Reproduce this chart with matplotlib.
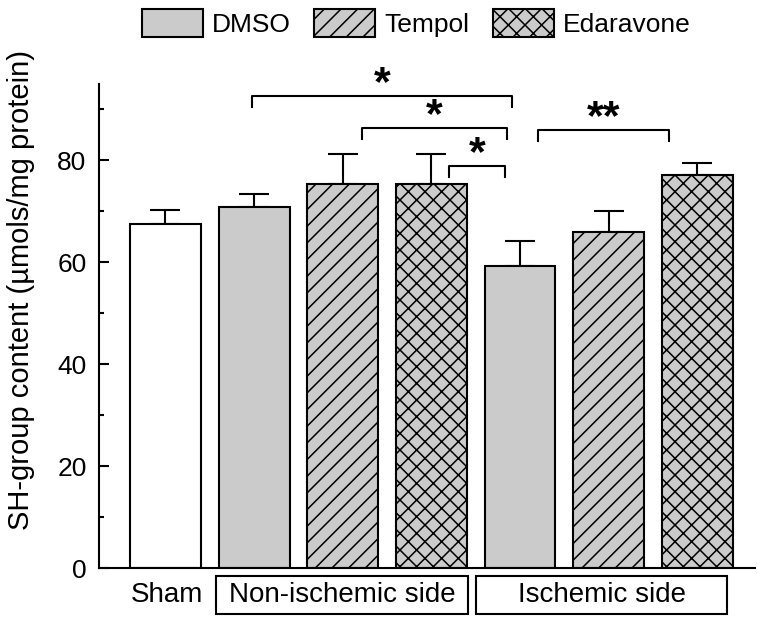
import numpy as np
import matplotlib
matplotlib.use('Agg')
import matplotlib.pyplot as plt
from matplotlib.patches import Patch, Rectangle
import matplotlib.transforms as mtransforms

plt.rcParams['font.family'] = ['Liberation Sans', 'DejaVu Sans']
plt.rcParams['hatch.linewidth'] = 1.1

# data
groups = ['Sham', 'DMSO', 'Tempol', 'Edaravone', 'DMSO', 'Tempol', 'Edaravone']
means = [67.5, 70.8, 75.4, 75.4, 59.3, 65.9, 77.2]
sems = [2.7, 2.6, 5.9, 5.9, 4.9, 4.2, 2.3]
# significance brackets: (left x, right x, y, label)
brackets = [(0.975, 3.91, 92.6, '*'),
            (2.22, 3.85, 86.4, '*'),
            (3.20, 3.83, 78.9, '*'),
            (4.20, 5.68, 86.0, '**')]

GREY = '#cbcbcb'
styles = {'Sham': ('white', ''), 'DMSO': (GREY, ''),
          'Tempol': (GREY, '//'), 'Edaravone': (GREY, 'xx')}

fig = plt.figure(figsize=(7.64, 6.24), dpi=100)
ax = fig.add_axes([0.1296, 0.0897, 0.8584, 0.7757])

x = np.arange(len(groups))
for xi, g, m in zip(x, groups, means):
    fc, h = styles[g]
    ax.bar(xi, m, width=0.8, color=fc, edgecolor='black', linewidth=1.5,
           hatch=h, zorder=2)
ax.errorbar(x, means, yerr=[np.zeros(len(sems)), sems], fmt='none',
            ecolor='black', elinewidth=1.5, capsize=10.5, capthick=1.5, zorder=1)

# brackets
leg = 2.2
for x0, x1, yb, lab in brackets:
    ax.plot([x0, x0, x1, x1], [yb - leg, yb, yb, yb - leg], color='black',
            lw=1.5, clip_on=False, zorder=3)
    ax.text((x0 + x1) / 2, yb + 0.2, lab, ha='center', va='baseline',
            fontsize=31, fontweight='bold', clip_on=False)

ax.set_xlim(-0.75, 6.65)
ax.set_ylim(0, 95)
ax.set_yticks([0, 20, 40, 60, 80])
ax.set_yticks([10, 30, 50, 70, 90], minor=True)
ax.tick_params(axis='y', which='major', direction='in', length=7, width=1.5,
               labelsize=19, pad=9)
ax.tick_params(axis='y', which='minor', direction='in', length=3.6, width=1.5)
ax.set_xticks([])
for s in ['top', 'right']:
    ax.spines[s].set_visible(False)
for s in ['left', 'bottom']:
    ax.spines[s].set_linewidth(1.5)
ax.set_ylabel('SH-group content (\u00b5mols/mg protein)', fontsize=21)
ax.yaxis.set_label_coords(-0.098, 0.574)

# group labels under the axis
trans = mtransforms.blended_transform_factory(ax.transData, ax.transAxes)
ax.text(0.02, -0.056, 'Sham', transform=trans, ha='center', va='center',
        fontsize=20)
for x0, x1, lab in [(0.57, 3.41, 'Non-ischemic side'),
                    (3.50, 6.34, 'Ischemic side')]:
    ax.add_patch(Rectangle((x0, -0.095), x1 - x0, 0.079, transform=trans,
                           facecolor='white', edgecolor='black', lw=1.5,
                           clip_on=False))
    ax.text((x0 + x1) / 2, -0.056, lab, transform=trans, ha='center',
            va='center', fontsize=20)

# legend
handles = [Patch(facecolor=GREY, edgecolor='black', lw=1.5, hatch=styles[g][1],
                 label=g) for g in ['DMSO', 'Tempol', 'Edaravone']]
fig.legend(handles=handles, loc='upper center', bbox_to_anchor=(0.545, 1.003),
           ncol=3, frameon=False, fontsize=19, handlelength=2.3,
           handleheight=1.25, handletextpad=0.35, columnspacing=0.9,
           borderaxespad=0.0)

fig.savefig('out.png', dpi=100)
